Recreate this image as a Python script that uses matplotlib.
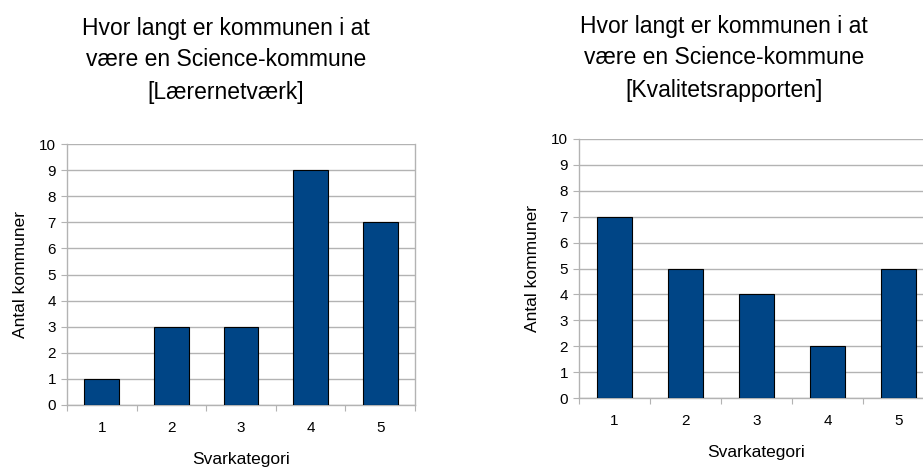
import numpy as np
import matplotlib.pyplot as plt

plt.rcParams['font.family'] = ['Liberation Sans', 'DejaVu Sans']

# === DATA ===
categories = [1, 2, 3, 4, 5]
laerernetvaerk = [1, 3, 3, 9, 7]
kvalitetsrapporten = [7, 5, 4, 2, 5]
titles = ["Hvor langt er kommunen i at\nvære en Science-kommune\n[Lærernetværk]",
          "Hvor langt er kommunen i at\nvære en Science-kommune\n[Kvalitetsrapporten]"]

BAR_COLOR = '#004586'
GRID_COLOR = '#b3b3b3'

W, H = 923, 468
fig = plt.figure(figsize=(W / 100, H / 100), dpi=100)

def px_axes(x0, y_bottom, width, height):
    """Axes placed in pixel coords (y_bottom measured from top)."""
    return fig.add_axes([x0 / W, (H - y_bottom) / H, width / W, height / H])

def draw_panel(ax, values, title, title_x, title_y):
    ax.bar(categories, values, width=0.5, color=BAR_COLOR,
           edgecolor='black', linewidth=0.8, zorder=3)
    ax.set_xlim(0.5, 5.5)
    ax.set_ylim(0, 10)
    ax.set_yticks(range(0, 11))
    ax.yaxis.grid(True, color=GRID_COLOR, linewidth=1.0, zorder=0)
    ax.set_axisbelow(True)

    # category ticks on boundaries, labels centred under bars
    ax.set_xticks(np.arange(0.5, 6.0, 1.0))
    ax.set_xticklabels([])
    ax.set_xticks(categories, minor=True)
    ax.set_xticklabels([str(c) for c in categories], minor=True)
    ax.tick_params(axis='x', which='minor', length=0, pad=11.5, labelsize=11)
    ax.tick_params(axis='x', which='major', length=4, color=GRID_COLOR)
    ax.tick_params(axis='y', length=4, color=GRID_COLOR, pad=4, labelsize=11)

    for side in ['left', 'right', 'bottom']:
        ax.spines[side].set_color(GRID_COLOR)
        ax.spines[side].set_linewidth(1.0)
    ax.spines['top'].set_visible(False)

    ax.set_ylabel('Antal kommuner', fontsize=12.5, labelpad=8)
    ax.set_xlabel('Svarkategori', fontsize=12.5, labelpad=12.5)
    fig.text(title_x / W, 1 - title_y / H, title, ha='center', va='center',
             fontsize=16.5, linespacing=1.5)

ax1 = px_axes(67, 405, 348, 261)
draw_panel(ax1, laerernetvaerk, titles[0], 226, 60)

ax2 = px_axes(579, 398, 355, 259)
draw_panel(ax2, kvalitetsrapporten, titles[1], 724, 58)

fig.savefig('out.png', dpi=100)
